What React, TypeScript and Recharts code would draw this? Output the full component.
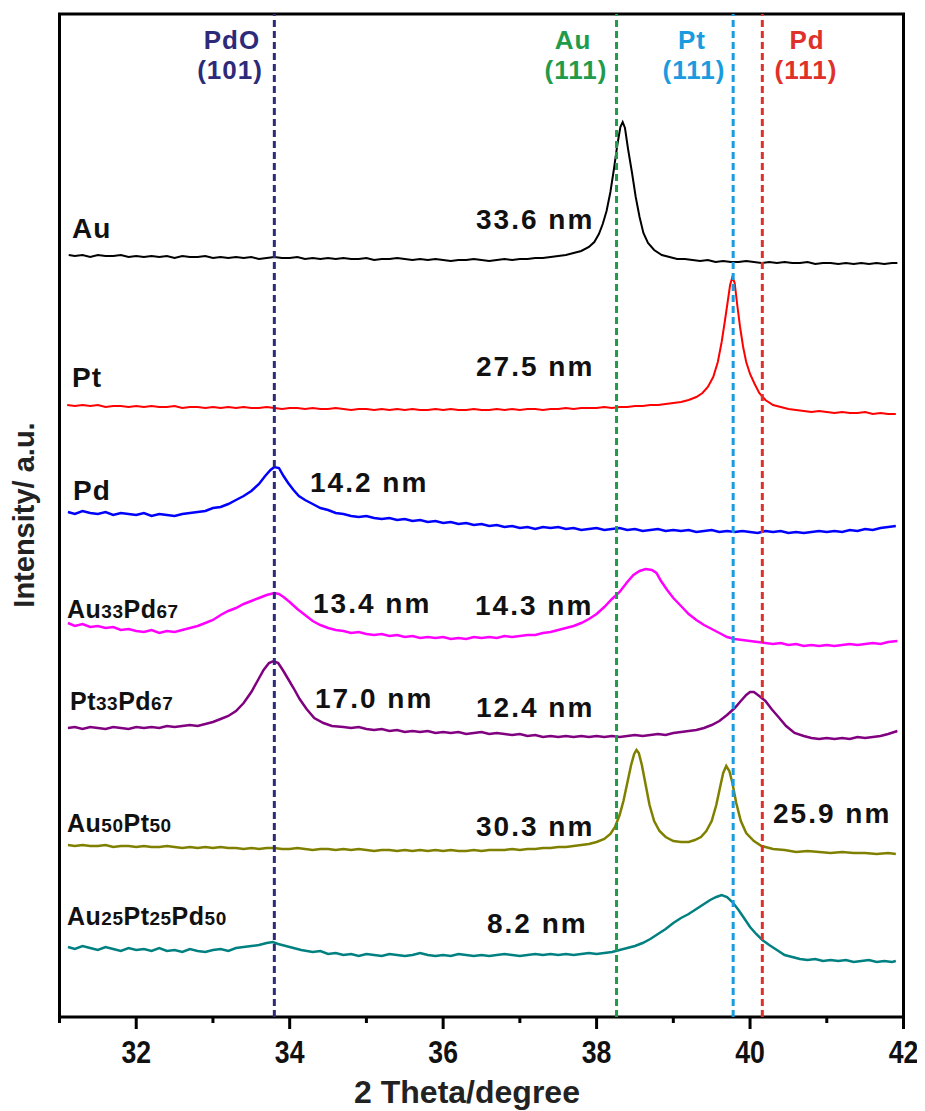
import React from "react";
import { LineChart, Line, XAxis, YAxis, ReferenceLine, ReferenceArea } from "recharts";

// 2θ (degree) vs offset intensity (a.u.)
const AU: [number, number][] = [
[31.12,762],[31.2,761],[31.3,762],[31.4,760],[31.5,762],[31.6,761],[31.7,761],[31.8,762],[31.9,760],[32.0,761],[32.1,760],[32.2,761],[32.3,760],[32.4,761],[32.5,759],[32.6,761],[32.7,760],[32.8,760],[32.9,761],[33.0,759],[33.1,760],[33.2,759],[33.3,760],[33.4,759],[33.5,760],[33.6,758],[33.7,759],[33.8,760],[33.9,759],[34.0,759],[34.1,760],[34.2,758],[34.3,759],[34.4,758],[34.5,759],[34.6,758],[34.7,759],[34.8,758],[34.9,758],[35.0,759],[35.1,757],[35.2,758],[35.3,758],[35.4,759],[35.5,758],[35.6,757],[35.7,758],[35.8,757],[35.9,758],[36.0,757],[36.1,756],[36.2,757],[36.3,757],[36.4,758],[36.5,757],[36.6,756],[36.7,757],[36.8,758],[36.9,757],[37.0,758],[37.1,758],[37.2,759],[37.3,759],[37.4,760],[37.5,761],[37.6,762],[37.7,764],[37.8,766],[37.9,770],[37.97,775],[38.03,783],[38.08,793],[38.13,806],[38.18,825],[38.23,850],[38.27,872],[38.31,890],[38.34,895],[38.37,889],[38.41,868],[38.46,845],[38.51,820],[38.56,800],[38.61,784],[38.67,774],[38.75,767],[38.85,762],[38.95,760],[39.05,758],[39.15,758],[39.25,757],[39.35,756],[39.45,757],[39.55,755],[39.65,756],[39.75,755],[39.85,755],[39.95,756],[40.05,755],[40.15,754],[40.25,755],[40.35,754],[40.45,755],[40.55,754],[40.65,754],[40.75,755],[40.85,753],[40.95,754],[41.05,754],[41.15,753],[41.25,754],[41.35,753],[41.45,754],[41.55,753],[41.65,754],[41.75,753],[41.85,754],[41.92,754]
];
const PT: [number, number][] = [
[31.1,612],[31.2,611],[31.3,612],[31.4,611],[31.5,612],[31.6,610],[31.7,611],[31.8,611],[31.9,610],[32.0,611],[32.1,610],[32.2,611],[32.3,610],[32.4,610],[32.5,611],[32.6,609],[32.7,610],[32.8,610],[32.9,609],[33.0,610],[33.1,609],[33.2,610],[33.3,609],[33.4,610],[33.5,609],[33.6,609],[33.7,610],[33.8,609],[33.9,608],[34.0,609],[34.1,609],[34.2,608],[34.3,609],[34.4,608],[34.5,608],[34.6,609],[34.7,608],[34.8,607],[34.9,608],[35.0,608],[35.1,607],[35.2,608],[35.3,607],[35.4,608],[35.5,607],[35.6,608],[35.7,607],[35.8,607],[35.9,608],[36.0,607],[36.1,608],[36.2,607],[36.3,607],[36.4,608],[36.5,607],[36.6,607],[36.7,608],[36.8,607],[36.9,608],[37.0,607],[37.1,608],[37.2,608],[37.3,607],[37.4,608],[37.5,608],[37.6,609],[37.7,608],[37.8,609],[37.9,609],[38.0,609],[38.1,610],[38.2,609],[38.3,610],[38.4,610],[38.5,611],[38.6,611],[38.7,612],[38.8,612],[38.9,613],[39.0,614],[39.1,615],[39.2,617],[39.3,620],[39.38,624],[39.45,630],[39.52,640],[39.58,655],[39.63,675],[39.67,695],[39.71,716],[39.74,732],[39.77,740],[39.8,734],[39.83,714],[39.87,690],[39.91,670],[39.95,655],[40.0,643],[40.06,633],[40.12,624],[40.2,617],[40.3,612],[40.4,610],[40.5,608],[40.6,607],[40.7,606],[40.8,605],[40.9,606],[41.0,605],[41.1,604],[41.2,605],[41.3,604],[41.4,604],[41.5,605],[41.6,603],[41.7,604],[41.8,603],[41.9,603]
];
const PD: [number, number][] = [
[31.11,505],[31.2,503],[31.3,506],[31.4,504],[31.5,503],[31.6,505],[31.7,502],[31.8,504],[31.9,503],[32.0,502],[32.1,504],[32.2,501],[32.3,503],[32.4,502],[32.5,501],[32.6,503],[32.7,504],[32.8,505],[32.9,506],[33.0,509],[33.1,510],[33.2,513],[33.3,517],[33.4,521],[33.5,526],[33.6,533],[33.68,541],[33.75,547],[33.8,550],[33.86,549],[33.92,541],[33.98,534],[34.05,527],[34.12,521],[34.2,517],[34.3,513],[34.4,509],[34.5,507],[34.6,504],[34.7,503],[34.8,501],[34.9,500],[35.0,501],[35.1,499],[35.2,498],[35.3,499],[35.4,497],[35.5,498],[35.6,496],[35.7,497],[35.8,495],[35.9,496],[36.0,494],[36.1,495],[36.2,493],[36.3,494],[36.4,492],[36.5,493],[36.6,491],[36.7,492],[36.8,490],[36.9,491],[37.0,489],[37.1,490],[37.2,488],[37.3,490],[37.4,489],[37.5,490],[37.6,488],[37.7,489],[37.8,487],[37.9,488],[38.0,489],[38.1,487],[38.2,488],[38.3,489],[38.4,487],[38.5,488],[38.6,486],[38.7,487],[38.8,488],[38.9,486],[39.0,487],[39.1,486],[39.2,487],[39.3,485],[39.4,486],[39.5,487],[39.6,485],[39.7,486],[39.8,485],[39.9,486],[40.0,485],[40.1,484],[40.2,486],[40.3,485],[40.4,486],[40.5,484],[40.6,485],[40.7,484],[40.8,485],[40.9,486],[41.0,485],[41.1,486],[41.2,485],[41.3,487],[41.4,486],[41.5,488],[41.6,487],[41.7,489],[41.8,490],[41.9,491]
];
const AU33PD67: [number, number][] = [
[31.11,394],[31.2,391],[31.3,393],[31.4,390],[31.5,391],[31.6,389],[31.7,390],[31.8,387],[31.9,388],[32.0,386],[32.1,385],[32.2,387],[32.3,384],[32.4,386],[32.5,385],[32.6,387],[32.7,389],[32.8,391],[32.9,394],[33.0,397],[33.1,402],[33.2,406],[33.3,409],[33.4,413],[33.5,416],[33.6,419],[33.7,422],[33.8,424],[33.86,423],[33.92,420],[34.0,415],[34.1,408],[34.2,402],[34.3,396],[34.4,392],[34.5,389],[34.6,387],[34.7,386],[34.8,384],[34.9,385],[35.0,383],[35.1,382],[35.2,383],[35.3,381],[35.4,382],[35.5,380],[35.6,381],[35.7,379],[35.8,380],[35.9,379],[36.0,380],[36.1,378],[36.2,379],[36.3,378],[36.4,380],[36.5,379],[36.6,380],[36.7,379],[36.8,381],[36.9,380],[37.0,381],[37.1,382],[37.2,382],[37.3,384],[37.4,385],[37.5,387],[37.6,389],[37.7,391],[37.8,394],[37.9,398],[38.0,403],[38.1,410],[38.2,418],[38.3,425],[38.4,435],[38.48,442],[38.56,446],[38.64,448],[38.72,447],[38.78,444],[38.84,436],[38.92,427],[39.0,419],[39.1,411],[39.2,403],[39.3,397],[39.4,392],[39.5,388],[39.6,384],[39.7,380],[39.8,378],[39.9,377],[40.0,376],[40.1,375],[40.2,374],[40.3,373],[40.4,374],[40.5,372],[40.6,373],[40.7,371],[40.8,372],[40.9,371],[41.0,372],[41.1,371],[41.2,372],[41.3,373],[41.4,372],[41.5,373],[41.6,374],[41.7,373],[41.8,375],[41.92,376]
];
const PT33PD67: [number, number][] = [
[31.11,289],[31.2,290],[31.3,288],[31.4,290],[31.5,289],[31.6,288],[31.7,290],[31.8,289],[31.9,288],[32.0,290],[32.1,289],[32.2,290],[32.3,289],[32.4,291],[32.5,290],[32.6,291],[32.7,292],[32.8,291],[32.9,293],[33.0,295],[33.1,298],[33.2,301],[33.3,306],[33.4,314],[33.5,325],[33.58,336],[33.66,347],[33.73,354],[33.79,356],[33.85,354],[33.91,347],[33.98,338],[34.05,329],[34.13,318],[34.22,308],[34.32,299],[34.44,294],[34.55,291],[34.7,290],[34.8,289],[34.9,290],[35.0,288],[35.1,287],[35.2,288],[35.3,286],[35.4,287],[35.5,285],[35.6,286],[35.7,285],[35.8,286],[35.9,284],[36.0,285],[36.1,284],[36.2,285],[36.3,283],[36.4,284],[36.5,285],[36.6,283],[36.7,284],[36.8,283],[36.9,282],[37.0,283],[37.1,281],[37.2,282],[37.3,280],[37.4,281],[37.5,280],[37.6,281],[37.7,280],[37.8,281],[37.9,280],[38.0,281],[38.1,280],[38.2,281],[38.3,280],[38.4,281],[38.5,282],[38.6,281],[38.7,282],[38.8,283],[38.9,282],[39.0,284],[39.1,285],[39.2,286],[39.3,287],[39.4,289],[39.5,292],[39.6,296],[39.7,302],[39.8,309],[39.88,316],[39.95,322],[40.0,325],[40.05,325],[40.12,321],[40.2,316],[40.28,308],[40.37,300],[40.47,291],[40.58,284],[40.7,281],[40.8,279],[40.9,278],[41.0,279],[41.1,278],[41.2,279],[41.3,278],[41.4,280],[41.5,279],[41.6,280],[41.7,281],[41.8,283],[41.92,286]
];
const AU50PT50: [number, number][] = [
[31.11,172],[31.2,171],[31.3,172],[31.4,171],[31.5,171],[31.6,172],[31.7,170],[31.8,171],[31.9,171],[32.0,170],[32.1,171],[32.2,170],[32.3,170],[32.4,171],[32.5,170],[32.6,169],[32.7,170],[32.8,169],[32.9,170],[33.0,169],[33.1,170],[33.2,169],[33.3,169],[33.4,168],[33.5,169],[33.6,168],[33.7,169],[33.8,169],[33.9,168],[34.0,168],[34.1,169],[34.2,168],[34.3,167],[34.4,168],[34.5,168],[34.6,167],[34.7,168],[34.8,167],[34.9,168],[35.0,167],[35.1,166],[35.2,167],[35.3,167],[35.4,166],[35.5,167],[35.6,166],[35.7,167],[35.8,166],[35.9,167],[36.0,166],[36.1,167],[36.2,166],[36.3,166],[36.4,167],[36.5,166],[36.6,167],[36.7,167],[36.8,167],[36.9,168],[37.0,167],[37.1,168],[37.2,168],[37.3,169],[37.4,169],[37.5,170],[37.6,170],[37.7,171],[37.8,172],[37.9,173],[38.0,175],[38.1,178],[38.18,183],[38.24,190],[38.3,202],[38.35,216],[38.4,234],[38.45,252],[38.49,263],[38.52,267],[38.55,264],[38.59,252],[38.64,232],[38.69,212],[38.75,196],[38.82,186],[38.9,180],[39.0,176],[39.1,175],[39.2,175],[39.28,177],[39.36,180],[39.43,186],[39.5,196],[39.56,212],[39.61,230],[39.65,244],[39.69,251],[39.73,246],[39.77,234],[39.82,214],[39.88,196],[39.95,184],[40.05,176],[40.15,171],[40.3,168],[40.45,167],[40.6,165],[40.75,166],[40.9,165],[41.05,164],[41.2,165],[41.35,164],[41.5,164],[41.65,163],[41.8,164],[41.9,163]
];
const AU25PT25PD50: [number, number][] = [
[31.11,70],[31.2,68],[31.3,71],[31.4,69],[31.5,67],[31.6,70],[31.7,68],[31.8,66],[31.9,69],[32.0,67],[32.1,68],[32.2,66],[32.3,69],[32.4,66],[32.5,67],[32.6,65],[32.7,68],[32.8,66],[32.9,65],[33.0,67],[33.1,68],[33.2,66],[33.3,69],[33.4,70],[33.5,71],[33.6,72],[33.7,74],[33.78,75],[33.85,73],[33.95,71],[34.05,69],[34.15,67],[34.3,65],[34.4,66],[34.5,63],[34.6,64],[34.7,62],[34.8,63],[34.9,61],[35.0,63],[35.1,62],[35.2,61],[35.3,63],[35.4,62],[35.5,61],[35.6,62],[35.7,64],[35.8,62],[35.9,61],[36.0,62],[36.1,61],[36.2,63],[36.3,62],[36.4,61],[36.5,62],[36.6,61],[36.7,62],[36.8,63],[36.9,62],[37.0,61],[37.1,62],[37.2,63],[37.3,62],[37.4,63],[37.5,62],[37.6,63],[37.7,62],[37.8,63],[37.9,64],[38.0,63],[38.1,64],[38.2,65],[38.3,67],[38.4,69],[38.5,71],[38.6,74],[38.7,78],[38.8,83],[38.9,88],[39.0,94],[39.1,99],[39.2,103],[39.3,108],[39.4,113],[39.48,117],[39.56,120],[39.63,122],[39.7,120],[39.77,115],[39.85,107],[39.93,98],[40.0,90],[40.08,83],[40.16,77],[40.25,72],[40.35,67],[40.45,62],[40.55,60],[40.65,58],[40.75,57],[40.85,58],[40.95,56],[41.05,57],[41.15,56],[41.25,57],[41.35,55],[41.45,56],[41.55,57],[41.65,55],[41.75,56],[41.85,55],[41.9,56]
];

const X_TICKS = [31, 32, 33, 34, 35, 36, 37, 38, 39, 40, 41, 42];
const X_DOMAIN: [number, number] = [31, 42];
const Y_DOMAIN: [number, number] = [0, 1003];

const REF_POSITIONS = [
  { x: 33.8, color: "#2e2a7a", name: "PdO", hkl: "(101)" },
  { x: 38.26, color: "#1e9b4b", name: "Au", hkl: "(111)" },
  { x: 39.78, color: "#1a9be0", name: "Pt", hkl: "(111)" },
  { x: 40.16, color: "#e0302a", name: "Pd", hkl: "(111)" },
];

const SERIES = [
  { key: "Au", data: AU, color: "#000000", width: 2 },
  { key: "Pt", data: PT, color: "#ff0000", width: 2 },
  { key: "Pd", data: PD, color: "#0000ff", width: 2.5 },
  { key: "Au33Pd67", data: AU33PD67, color: "#ff00ff", width: 2.5 },
  { key: "Pt33Pd67", data: PT33PD67, color: "#800080", width: 2.5 },
  { key: "Au50Pt50", data: AU50PT50, color: "#808000", width: 2.5 },
  { key: "Au25Pt25Pd50", data: AU25PT25PD50, color: "#008080", width: 2.5 },
];

const FONT = "'Liberation Sans', Arial, Helvetica, sans-serif";

const XTick = (props: any) => {
  const { x, y, payload } = props;
  const v = payload.value as number;
  const major = v % 2 === 0;
  return (
    <g>
      <line x1={x} x2={x} y1={y} y2={y + (major ? 12 : 6)} stroke="#000" strokeWidth={3} />
      {major && (
        <text
          transform={`translate(${x}, ${y + 46}) scale(0.86, 1)`}
          textAnchor="middle"
          fontSize={31}
          fontWeight="bold"
          fontFamily={FONT}
          fill="#111"
        >
          {v}
        </text>
      )}
    </g>
  );
};

// annotation text (overlay coords = page - 8)
const SAMPLE_LABELS: { parts: [string, boolean][]; x: number; y: number; big?: boolean }[] = [
  { parts: [["Au", false]], x: 72, y: 238, big: true },
  { parts: [["Pt", false]], x: 72, y: 387, big: true },
  { parts: [["Pd", false]], x: 73, y: 500, big: true },
  { parts: [["Au", false], ["33", true], ["Pd", false], ["67", true]], x: 67, y: 618 },
  { parts: [["Pt", false], ["33", true], ["Pd", false], ["67", true]], x: 70, y: 710 },
  { parts: [["Au", false], ["50", true], ["Pt", false], ["50", true]], x: 67, y: 832 },
  { parts: [["Au", false], ["25", true], ["Pt", false], ["25", true], ["Pd", false], ["50", true]], x: 67, y: 925 },
];

const SIZE_LABELS: { text: string; x: number; y: number }[] = [
  { text: "33.6 nm", x: 476, y: 229 },
  { text: "27.5 nm", x: 476, y: 376 },
  { text: "14.2 nm", x: 310, y: 492 },
  { text: "13.4 nm", x: 313, y: 613 },
  { text: "14.3 nm", x: 475, y: 615 },
  { text: "17.0 nm", x: 315, y: 708 },
  { text: "12.4 nm", x: 476, y: 717 },
  { text: "30.3 nm", x: 476, y: 836 },
  { text: "25.9 nm", x: 773, y: 823 },
  { text: "8.2 nm", x: 487, y: 933 },
];

const TOP_LABEL_POS = [
  { cx: 232, cx2: 230 },
  { cx: 573, cx2: 576 },
  { cx: 692, cx2: 694 },
  { cx: 807, cx2: 806 },
];

export default function App() {
  const W = 917;
  const H = 1103;
  return (
    <div style={{ position: "relative", width: W, height: H }}>
      <LineChart width={W} height={H} margin={{ top: 6, right: 21.5, bottom: 0, left: 51.5 }}>
        <XAxis
          dataKey="t"
          type="number"
          domain={X_DOMAIN}
          ticks={X_TICKS}
          allowDataOverflow
          axisLine={false}
          tickLine={false}
          tickSize={0}
          tickMargin={0}
          height={94}
          interval={0}
          tick={<XTick />}
        />
        <YAxis type="number" domain={Y_DOMAIN} hide allowDataOverflow />
        {SERIES.map((s) => (
          <Line
            key={s.key}
            data={s.data.map(([t, v]) => ({ t, v }))}
            dataKey="v"
            type="linear"
            stroke={s.color}
            strokeWidth={s.width}
            dot={false}
            activeDot={false}
            isAnimationActive={false}
          />
        ))}
        {REF_POSITIONS.map((r) => (
          <ReferenceLine key={r.name} x={r.x} stroke={r.color} strokeWidth={3} strokeDasharray="7 4" />
        ))}
        <ReferenceArea x1={X_DOMAIN[0]} x2={X_DOMAIN[1]} y1={Y_DOMAIN[0]} y2={Y_DOMAIN[1]} fill="none" fillOpacity={0} stroke="#000" strokeWidth={3} />
      </LineChart>
      <svg width={W} height={H} style={{ position: "absolute", left: 0, top: 0, pointerEvents: "none" }}>
        <g fontFamily={FONT} fontWeight="bold">
          {REF_POSITIONS.map((r, i) => (
            <g key={r.name} fill={r.color} fontSize={26} textAnchor="middle" letterSpacing={1}>
              <text x={TOP_LABEL_POS[i].cx - 8} y={49 - 8}>{r.name}</text>
              <text x={TOP_LABEL_POS[i].cx2 - 8} y={79 - 8}>{r.hkl}</text>
            </g>
          ))}
          {SAMPLE_LABELS.map((l, i) => (
            <text key={i} x={l.x - 8} y={l.y - 8} fill="#111" letterSpacing={l.big ? 1 : 0.5}>
              {l.parts.map(([p, sub], j) => (
                <tspan key={j} fontSize={l.big ? 28 : sub ? 19 : 25}>{p}</tspan>
              ))}
            </text>
          ))}
          {SIZE_LABELS.map((l, i) => (
            <text key={i} x={l.x - 8} y={l.y - 8} fill="#111" fontSize={28} letterSpacing={2}>
              {l.text}
            </text>
          ))}
          <text x={467 - 8} y={1103 - 8} fontSize={32} textAnchor="middle" fill="#222">2 Theta/degree</text>
          <text transform={`translate(${34 - 8}, ${515 - 8}) rotate(-90)`} fontSize={29} textAnchor="middle" fill="#222">
            Intensity/ a.u.
          </text>
        </g>
      </svg>
    </div>
  );
}
